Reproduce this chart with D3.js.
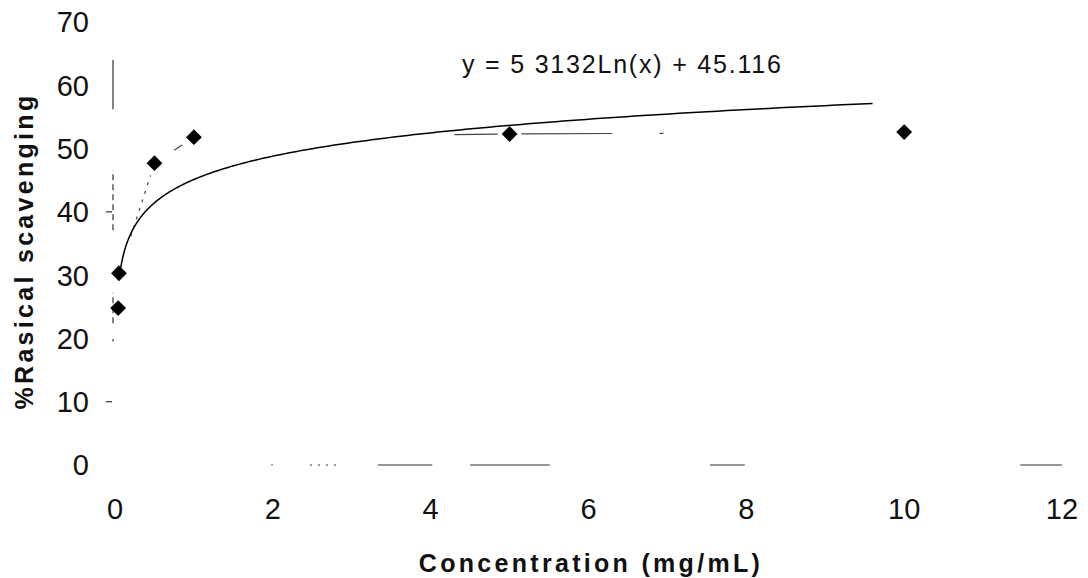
<html lang="en">
<head>
<meta charset="utf-8">
<title>Radical scavenging</title>
<style>
  body { margin: 0; background: white; }
  svg { background: white; font-family: "Liberation Sans", Arial, sans-serif; }
  .tick-label { font-size: 29px; fill: #111; }
  .axis-title { font-size: 25px; font-weight: bold; letter-spacing: 3.3px; fill: #111; }
  .equation { font-size: 25px; letter-spacing: 1.8px; fill: #111; }
  .trend { fill: none; stroke: #000; stroke-width: 1.5; }
  .series-line { fill: none; stroke: #444; stroke-width: 1.2; }
  .axis-frag { stroke: #333; stroke-width: 1.2; fill: none; }
</style>
</head>
<body>
<div id="chart"></div>
<script src="https://d3js.org/d3.v7.min.js"></script>
<script>
// measured points: concentration (mg/mL) vs % radical scavenging
var concentration = [0.04, 0.05, 0.5, 1, 5, 10];
var scavenging = [24.8, 30.3, 47.7, 51.8, 52.3, 52.6];

var xTicks = [0, 2, 4, 6, 8, 10, 12];
var yTicks = [0, 10, 20, 30, 40, 50, 60, 70];

// logarithmic trendline y = a ln(x) + b
var trendA = 5.3132, trendB = 45.116;
var trendRange = [0.07, 9.6];
var trendLabel = "y = 5 3132Ln(x) + 45.116";

// the scanned lines only survive in pieces
var yAxisPieces = [[56.2, 64], [37.1, 46.6], [22.4, 27.2], [19.5, 19.9]];
var xAxisPieces = [[1.98, 2.0], [2.47, 2.83], [3.33, 4.02], [4.5, 5.51], [7.54, 7.98], [11.47, 12]];
var yTickPieces = [40, 10];
// pieces of the line joining the points: [from x, to x, dashed?]
var seriesPieces = [[0.2, 0.45, 1], [0.75, 0.85, 0], [4.3, 4.85, 0], [5.15, 6.3, 0], [6.9, 6.95, 0]];

var width = 1088, height = 578;

var svg = d3.select("#chart")
    .append("svg")
    .attr("width", width)
    .attr("height", height);

var x = d3.scaleLinear().domain([0, 12]).range([115, 1062]);
var y = d3.scaleLinear().domain([0, 70]).range([465, 22]);

// broken axis fragments
svg.selectAll(".yfrag")
    .data(yAxisPieces)
    .enter().append("line")
    .attr("class", "axis-frag")
    .attr("x1", x(0) - 2).attr("x2", x(0) - 2)
    .attr("y1", function(d) { return y(d[0]); })
    .attr("y2", function(d) { return y(d[1]); })
    .style("stroke-dasharray", function(d, i) { return i == 0 ? null : "6,4"; });

svg.selectAll(".ytickfrag")
    .data(yTickPieces)
    .enter().append("line")
    .attr("class", "axis-frag")
    .attr("x1", x(0) - 9).attr("x2", x(0) - 3)
    .attr("y1", function(d) { return y(d); })
    .attr("y2", function(d) { return y(d); });

svg.selectAll(".xfrag")
    .data(xAxisPieces)
    .enter().append("line")
    .attr("class", "axis-frag")
    .attr("y1", y(0)).attr("y2", y(0))
    .attr("x1", function(d) { return x(d[0]); })
    .attr("x2", function(d) { return x(d[1]); })
    .style("stroke-dasharray", function(d, i) { return i == 1 ? "2,6" : null; });

// tick labels
svg.selectAll(".ylab")
    .data(yTicks)
    .enter().append("text")
    .attr("class", "tick-label")
    .attr("x", 89)
    .attr("y", function(d) { return y(d); })
    .attr("dy", "0.36em")
    .attr("text-anchor", "end")
    .text(function(d) { return d; });

svg.selectAll(".xlab")
    .data(xTicks)
    .enter().append("text")
    .attr("class", "tick-label")
    .attr("x", function(d) { return x(d); })
    .attr("y", 519)
    .attr("text-anchor", "middle")
    .text(function(d) { return d; });

// axis titles
svg.append("text")
    .attr("class", "axis-title")
    .attr("x", 591)
    .attr("y", 572)
    .attr("text-anchor", "middle")
    .text("Concentration (mg/mL)");

svg.append("text")
    .attr("class", "axis-title")
    .attr("transform", "translate(33,251) rotate(-90)")
    .attr("text-anchor", "middle")
    .text("%Rasical scavenging");

// surviving bits of the line joining the points
var pts = concentration.map(function(c, i) { return [c, scavenging[i]]; });
function along(c) {
    for (var i = 1; i < pts.length; i++) {
        if (c <= pts[i][0]) {
            var t = (c - pts[i - 1][0]) / (pts[i][0] - pts[i - 1][0]);
            return pts[i - 1][1] + t * (pts[i][1] - pts[i - 1][1]);
        }
    }
    return pts[pts.length - 1][1];
}
svg.selectAll(".series-line")
    .data(seriesPieces)
    .enter().append("line")
    .attr("class", "series-line")
    .attr("x1", function(d) { return x(d[0]); })
    .attr("x2", function(d) { return x(d[1]); })
    .attr("y1", function(d) { return y(along(d[0])); })
    .attr("y2", function(d) { return y(along(d[1])); })
    .style("stroke-dasharray", function(d) { return d[2] ? "3,6" : null; });

// trendline
var trendPts = d3.range(0, 301).map(function(i) {
    var t = i / 300;
    var c = Math.exp(Math.log(trendRange[0]) + t * (Math.log(trendRange[1]) - Math.log(trendRange[0])));
    return [c, trendA * Math.log(c) + trendB];
});
svg.append("path")
    .datum(trendPts)
    .attr("class", "trend")
    .attr("d", d3.line()
        .x(function(d) { return x(d[0]); })
        .y(function(d) { return y(d[1]); }));

// diamond markers
svg.selectAll(".pt")
    .data(pts)
    .enter().append("path")
    .attr("d", d3.symbol().type(d3.symbolSquare).size(125))
    .attr("transform", function(d) {
        return "translate(" + x(d[0]) + "," + y(d[1]) + ") rotate(45)";
    })
    .style("fill", "#000");

svg.append("text")
    .attr("class", "equation")
    .attr("x", 462)
    .attr("y", 73)
    .text(trendLabel);
</script>
</body>
</html>
